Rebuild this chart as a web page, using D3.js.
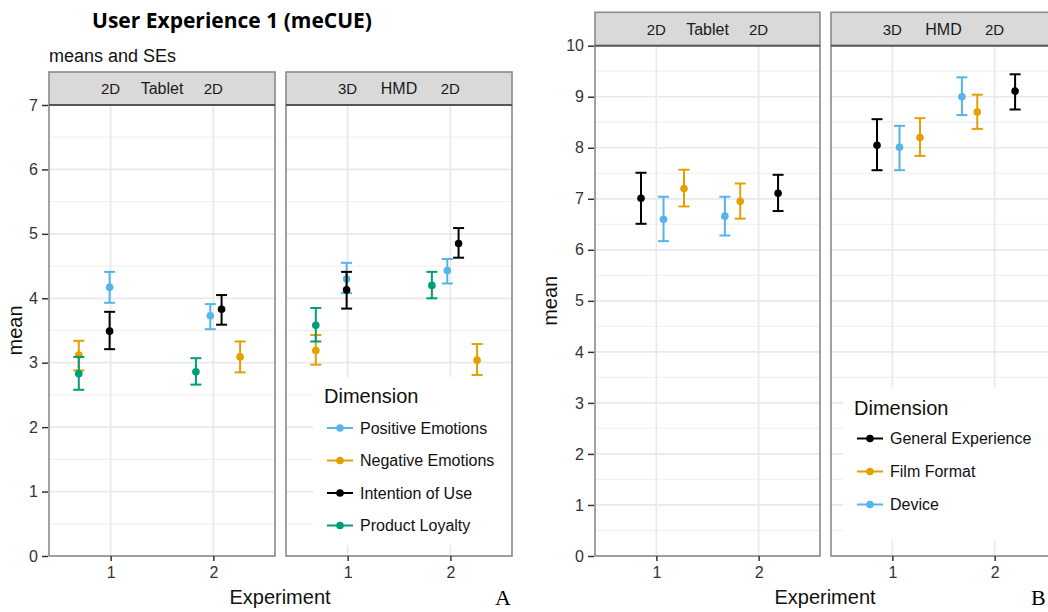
<!DOCTYPE html>
<html>
<head>
<meta charset="utf-8">
<script src="https://cdn.jsdelivr.net/npm/d3@7"></script>
<style>
  body { margin: 0; background: #fff; }
  svg { display: block; }
  text { font-family: "Liberation Sans", Arial, sans-serif; }
</style>
</head>
<body>
<svg id="chart" width="1048" height="612"></svg>
<script>
// ---- chart A (meCUE) ----
var aDims = ["Positive Emotions", "Negative Emotions", "Intention of Use", "Product Loyalty"];
var aColors = ["#56B4E9", "#E69F00", "#000000", "#009E73"];
var aPanel = [0, 0, 0, 0, 0, 0, 0, 0, 1, 1, 1, 1, 1, 1, 1, 1];
var aDim   = [3, 1, 0, 2, 3, 0, 2, 1, 3, 1, 0, 2, 3, 0, 2, 1];
var aX     = [0.69, 0.69, 0.99, 0.99, 1.83, 1.97, 2.08, 2.26, 0.69, 0.69, 0.99, 0.99, 1.82, 1.97, 2.08, 2.26];
var aMean  = [2.83, 3.12, 4.17, 3.49, 2.86, 3.73, 3.83, 3.09, 3.58, 3.19, 4.30, 4.13, 4.20, 4.43, 4.85, 3.04];
var aLow   = [2.58, 2.88, 3.93, 3.21, 2.66, 3.52, 3.59, 2.85, 3.33, 2.97, 4.08, 3.84, 4.00, 4.23, 4.63, 2.81];
var aHigh  = [3.09, 3.34, 4.41, 3.79, 3.07, 3.91, 4.05, 3.33, 3.85, 3.43, 4.55, 4.41, 4.41, 4.61, 5.09, 3.29];
var aYTicks = [0, 1, 2, 3, 4, 5, 6, 7];

// ---- chart B ----
var bDims = ["General Experience", "Film Format", "Device"];
var bColors = ["#000000", "#E69F00", "#56B4E9"];
var bPanel = [0, 0, 0, 0, 0, 0, 1, 1, 1, 1, 1, 1];
var bDim   = [0, 2, 1, 2, 1, 0, 0, 2, 1, 2, 1, 0];
var bX     = [0.85, 1.07, 1.27, 1.67, 1.82, 2.19, 0.85, 1.07, 1.27, 1.68, 1.83, 2.20];
var bMean  = [7.01, 6.60, 7.20, 6.66, 6.95, 7.11, 8.05, 8.01, 8.20, 9.00, 8.70, 9.11];
var bLow   = [6.51, 6.17, 6.85, 6.28, 6.61, 6.76, 7.56, 7.56, 7.84, 8.64, 8.37, 8.75];
var bHigh  = [7.51, 7.04, 7.57, 7.04, 7.30, 7.47, 8.56, 8.43, 8.58, 9.38, 9.04, 9.44];
var bYTicks = [0, 1, 2, 3, 4, 5, 6, 7, 8, 9, 10];

// facet strips (shared)
var stripLabels = [["2D", "Tablet", "2D"], ["3D", "HMD", "2D"]];
var stripPos = [1, 1.5, 2];
var xTicks = [1, 2];

var svg = d3.select("#chart");

// title and subtitle of chart A
svg.append("text")
  .attr("x", 232).attr("y", 28)
  .attr("text-anchor", "middle")
  .style("font-family", "'Open Sans', sans-serif")
  .style("font-weight", "700")
  .style("font-size", "21px")
  .attr("fill", "#000")
  .text("User Experience 1 (meCUE)");

svg.append("text")
  .attr("x", 49).attr("y", 62)
  .style("font-size", "18px")
  .attr("fill", "#111")
  .text("means and SEs");

function drawChart(cfg) {
  var g = svg.append("g");
  var y = d3.scaleLinear().domain(cfg.yDomain).range([cfg.bottom, cfg.top]);
  var stripH = cfg.top - cfg.stripTop;

  // sort points so that they are drawn in legend order
  var rows = [];
  for (var i = 0; i < cfg.panel.length; i++) {
    rows.push({ panel: cfg.panel[i], dim: cfg.dim[i], x: cfg.x[i], mean: cfg.mean[i], lo: cfg.low[i], hi: cfg.high[i] });
  }
  rows.sort(function(a, b) { return a.dim - b.dim; });

  cfg.lefts.forEach(function(left, p) {
    var x = d3.scaleLinear().domain([0.4, 2.6]).range([left, left + cfg.width]);
    var pg = g.append("g");

    // panel background and grid
    pg.append("rect")
      .attr("x", left).attr("y", cfg.top)
      .attr("width", cfg.width).attr("height", cfg.bottom - cfg.top)
      .attr("fill", "#fff");

    var minor = d3.range(cfg.yDomain[0] + 0.5, cfg.yDomain[1], 1);
    pg.selectAll(".minor").data(minor).join("line")
      .attr("x1", left).attr("x2", left + cfg.width)
      .attr("y1", function(d) { return y(d); }).attr("y2", function(d) { return y(d); })
      .attr("stroke", "#f2f2f2").attr("stroke-width", 1.3);
    pg.selectAll(".major").data(cfg.yTicks).join("line")
      .attr("x1", left).attr("x2", left + cfg.width)
      .attr("y1", function(d) { return y(d); }).attr("y2", function(d) { return y(d); })
      .attr("stroke", "#e9e9e9").attr("stroke-width", 1.7);
    pg.selectAll(".vmajor").data(xTicks).join("line")
      .attr("x1", function(d) { return x(d); }).attr("x2", function(d) { return x(d); })
      .attr("y1", cfg.top).attr("y2", cfg.bottom)
      .attr("stroke", "#e9e9e9").attr("stroke-width", 1.7);

    // legend box hides grid in second panel
    if (p == 1) {
      pg.append("rect")
        .attr("x", cfg.legend.x0).attr("y", cfg.legend.y0)
        .attr("width", cfg.legend.w).attr("height", cfg.legend.h)
        .attr("fill", "#fff");
    }

    // error bars and points
    var pts = rows.filter(function(d) { return d.panel == p; });
    var eb = pg.selectAll(".eb").data(pts).join("g");
    eb.append("line")
      .attr("x1", function(d) { return x(d.x); }).attr("x2", function(d) { return x(d.x); })
      .attr("y1", function(d) { return y(d.lo); }).attr("y2", function(d) { return y(d.hi); })
      .attr("stroke", function(d) { return cfg.colors[d.dim]; }).attr("stroke-width", 2);
    eb.append("line")
      .attr("x1", function(d) { return x(d.x) - 5.5; }).attr("x2", function(d) { return x(d.x) + 5.5; })
      .attr("y1", function(d) { return y(d.hi); }).attr("y2", function(d) { return y(d.hi); })
      .attr("stroke", function(d) { return cfg.colors[d.dim]; }).attr("stroke-width", 2);
    eb.append("line")
      .attr("x1", function(d) { return x(d.x) - 5.5; }).attr("x2", function(d) { return x(d.x) + 5.5; })
      .attr("y1", function(d) { return y(d.lo); }).attr("y2", function(d) { return y(d.lo); })
      .attr("stroke", function(d) { return cfg.colors[d.dim]; }).attr("stroke-width", 2);
    eb.append("circle")
      .attr("cx", function(d) { return x(d.x); }).attr("cy", function(d) { return y(d.mean); })
      .attr("r", 3.8)
      .attr("fill", function(d) { return cfg.colors[d.dim]; });

    // panel border
    pg.append("rect")
      .attr("x", left).attr("y", cfg.top)
      .attr("width", cfg.width).attr("height", cfg.bottom - cfg.top)
      .attr("fill", "none").attr("stroke", "#8a8a8a").attr("stroke-width", 1.6);

    // strip
    pg.append("rect")
      .attr("x", left).attr("y", cfg.stripTop)
      .attr("width", cfg.width).attr("height", stripH)
      .attr("fill", "#d9d9d9").attr("stroke", "#8a8a8a").attr("stroke-width", 1.6);
    pg.append("line")
      .attr("x1", left).attr("x2", left + cfg.width)
      .attr("y1", cfg.top).attr("y2", cfg.top)
      .attr("stroke", "#555").attr("stroke-width", 1.8);
    pg.selectAll(".strip").data(stripLabels[p]).join("text")
      .attr("x", function(d, i) { return x(stripPos[i]); })
      .attr("y", cfg.stripTop + stripH / 2 + 5.5)
      .attr("text-anchor", "middle")
      .style("font-size", function(d, i) { return i == 1 ? "16px" : "15px"; })
      .attr("fill", "#1a1a1a")
      .text(function(d) { return d; });

    // x axis
    var xa = pg.append("g")
      .attr("transform", "translate(0," + cfg.bottom + ")")
      .call(d3.axisBottom(x).tickValues(xTicks).tickFormat(d3.format("d")).tickSize(5).tickPadding(6));
    xa.select(".domain").remove();
    xa.selectAll("line").attr("stroke", "#333").attr("stroke-width", 1.5);
    xa.selectAll("text").attr("fill", "#333").style("font-size", "16px")
      .style("font-family", "'Liberation Sans', Arial, sans-serif");

    if (p == 0) {
      var ya = pg.append("g")
        .attr("transform", "translate(" + (left - 1) + ",0)")
        .call(d3.axisLeft(y).tickValues(cfg.yTicks).tickFormat(d3.format("d")).tickSize(6).tickPadding(4));
      ya.select(".domain").remove();
      ya.selectAll("line").attr("stroke", "#333").attr("stroke-width", 1.5);
      ya.selectAll("text").attr("fill", "#333").style("font-size", "16px")
        .style("font-family", "'Liberation Sans', Arial, sans-serif");
    }
  });

  // axis titles
  g.append("text")
    .attr("transform", "translate(" + cfg.yLabelX + "," + ((cfg.top + cfg.bottom) / 2) + ") rotate(-90)")
    .attr("text-anchor", "middle")
    .style("font-size", "20px").attr("fill", "#111")
    .text("mean");
  g.append("text")
    .attr("x", cfg.xLabelX).attr("y", 604)
    .attr("text-anchor", "middle")
    .style("font-size", "20px").attr("fill", "#111")
    .text("Experiment");

  // legend
  var lg = g.append("g");
  lg.append("text")
    .attr("x", cfg.legend.titleX).attr("y", cfg.legend.titleY)
    .style("font-size", "20px").attr("fill", "#111")
    .text("Dimension");
  var items = lg.selectAll(".item").data(cfg.dims).join("g")
    .attr("transform", function(d, i) { return "translate(" + cfg.legend.keyX + "," + (cfg.legend.itemY + i * cfg.legend.step) + ")"; });
  items.append("line")
    .attr("x1", 0).attr("x2", 26).attr("y1", 0).attr("y2", 0)
    .attr("stroke", function(d, i) { return cfg.colors[i]; }).attr("stroke-width", 2);
  items.append("circle")
    .attr("cx", 13).attr("cy", 0).attr("r", 3.8)
    .attr("fill", function(d, i) { return cfg.colors[i]; });
  items.append("text")
    .attr("x", 33).attr("y", 5.5)
    .style("font-size", "16px").attr("fill", "#111")
    .text(function(d) { return d; });

  // panel letter
  g.append("text")
    .attr("x", cfg.letterX).attr("y", 605)
    .style("font-family", "'Liberation Serif', 'Times New Roman', serif")
    .style("font-size", "22px").attr("fill", "#000")
    .text(cfg.letter);
}

drawChart({
  panel: aPanel, dim: aDim, x: aX, mean: aMean, low: aLow, high: aHigh,
  dims: aDims, colors: aColors, yTicks: aYTicks, yDomain: [0, 7],
  lefts: [49, 286], width: 226, top: 105, bottom: 556, stripTop: 72,
  yLabelX: 22, xLabelX: 280, letter: "A", letterX: 495,
  legend: { x0: 313, y0: 377, w: 198, h: 168, titleX: 324, titleY: 403, keyX: 327, itemY: 428, step: 32.5 }
});

drawChart({
  panel: bPanel, dim: bDim, x: bX, mean: bMean, low: bLow, high: bHigh,
  dims: bDims, colors: bColors, yTicks: bYTicks, yDomain: [0, 10],
  lefts: [595, 831], width: 225, top: 45.7, bottom: 556, stripTop: 12.3,
  yLabelX: 557, xLabelX: 825, letter: "B", letterX: 1031,
  legend: { x0: 843, y0: 387, w: 210, h: 153, titleX: 854, titleY: 415, keyX: 857, itemY: 438.5, step: 33 }
});
</script>
</body>
</html>
